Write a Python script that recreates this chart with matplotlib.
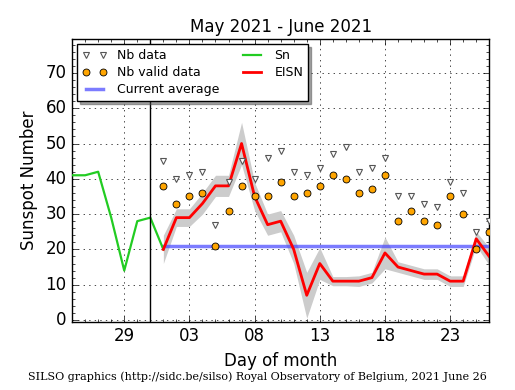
import datetime as dt
import numpy as np
import matplotlib
matplotlib.use('Agg')
import matplotlib.pyplot as plt
import matplotlib.dates as mdates

# smoothed Sn, May 25 -> June 1
sn_days = [dt.date(2021, 5, d) for d in range(25, 32)] + [dt.date(2021, 6, 1)]
sn_vals = [41, 41, 42, 29, 14, 28, 29, 20]

# daily EISN for June 1..26
june_days = [dt.date(2021, 6, d) for d in range(1, 27)]
eisn = [20, 29, 29, 33, 38, 38, 50, 35, 27, 28, 20, 7, 16, 11, 11, 11, 12, 19,
        15, 14, 13, 13, 11, 11, 23, 18]
eisn_err = [4, 2.5, 2.5, 3, 3, 3, 6, 4, 3, 3, 4, 6.5, 4.5, 1.3, 1.3, 1.5, 1.5, 4.5,
            1.5, 1.5, 1.5, 1.5, 1.5, 1.5, 2, 2.5]
nb_data = [45, 40, 41, 42, 27, 39, 45, 40, 46, 48, 42, 41, 43, 47, 49, 42, 43, 46,
           35, 35, 33, 32, 39, 36, 25, 28]
nb_valid = [38, 33, 35, 36, 21, 31, 38, 35, 35, 39, 35, 36, 38, 41, 40, 36, 37, 41,
            28, 31, 28, 27, 35, 30, 20, 25]
current_avg = 21

plt.style.use('classic')
fig = plt.figure(figsize=(5.15, 3.9), dpi=100, facecolor='white')
ax = fig.add_axes([0.14, 0.175, 0.81, 0.724])

lo = np.array(eisn) - np.array(eisn_err)
hi = np.array(eisn) + np.array(eisn_err)
ax.fill_between(june_days, lo, hi, color='#cccccc', lw=0, zorder=2)

ax.plot(june_days, nb_data, linestyle='none', marker='v', ms=5,
        mfc='white', mec='#555555', mew=0.8, label='Nb data', zorder=4)
ax.plot(june_days, nb_valid, linestyle='none', marker='o', ms=5,
        mfc='orange', mec='black', mew=0.6, label='Nb valid data', zorder=4)
ax.plot([june_days[0], dt.date(2021, 6, 27)], [current_avg, current_avg],
        color='#4444ff', lw=2.5, alpha=0.7, label='Current average', zorder=3)
ax.plot(sn_days, sn_vals, color='#22cc22', lw=1.6, label='Sn', zorder=3)
ax.plot(june_days, eisn, color='red', lw=2, label='EISN', zorder=3)

ax.axvline(dt.date(2021, 5, 31), color='black', lw=1, zorder=3)

ax.set_xlim(dt.date(2021, 5, 25), dt.date(2021, 6, 26))
ax.set_ylim(-0.5, 79.5)
ax.xaxis.set_major_locator(mdates.DayLocator(bymonthday=[29, 3, 8, 13, 18, 23]))
ax.xaxis.set_major_formatter(mdates.DateFormatter('%d'))
ax.xaxis.set_minor_locator(mdates.DayLocator())
ax.yaxis.set_minor_locator(matplotlib.ticker.MultipleLocator(2))
ax.grid(True, linestyle=':', color='black')
ax.set_axisbelow(True)

ax.set_title('May 2021 - June 2021', fontsize=12)
ax.set_xlabel('Day of month', fontsize=12)
ax.set_ylabel('Sunspot Number', fontsize=12)

leg = ax.legend(loc='upper left', ncol=2, fontsize=9, shadow=True,
                numpoints=2, columnspacing=1.6, labelspacing=0.3,
                borderaxespad=0.4, borderpad=0.4)

fig.text(0.5, 0.02, 'SILSO graphics (http://sidc.be/silso) Royal Observatory of Belgium, 2021 June 26',
         ha='center', va='bottom', fontsize=8, family='DejaVu Serif')

fig.savefig('out.png', dpi=100, facecolor='white')
